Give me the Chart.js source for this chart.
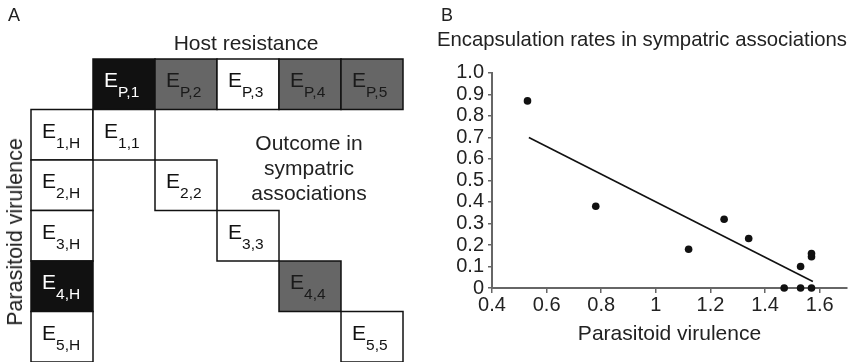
<!DOCTYPE html>
<html lang="en">
<head>
    <meta charset="UTF-8">
    <title>Host resistance and parasitoid virulence</title>
    <script src="https://cdn.jsdelivr.net/npm/chart.js"></script>
    <style>
        body { margin: 0; background: #fff; font-family: "Liberation Sans", Arial, sans-serif; color: #222; }
        #fig { position: relative; width: 862px; height: 362px; overflow: hidden; }
        .txt { position: absolute; white-space: nowrap; line-height: 20px; font-size: 20px; }
        #panelA { position: absolute; left: 0; top: 0; width: 430px; height: 362px; }
        #panelB { position: absolute; left: 430px; top: 0; width: 432px; height: 362px; }
    </style>
</head>
<body>
<div id="fig">
    <div id="panelA"><canvas id="gridChart"></canvas></div>
    <div id="panelB"><canvas id="scatterChart"></canvas></div>

    <div class="txt" style="left:8px;top:6px;font-size:18px;line-height:18px;">A</div>
    <div class="txt" style="left:441px;top:6px;font-size:18px;line-height:18px;">B</div>
    <div class="txt" style="left:246px;top:33px;transform:translateX(-50%);font-size:21px;">Host resistance</div>
    <div class="txt" style="left:309px;top:130px;transform:translateX(-50%);text-align:center;line-height:25px;font-size:21px;">Outcome in<br>sympatric<br>associations</div>
    <div class="txt" style="left:15px;top:232px;transform:translate(-50%,-50%) rotate(-90deg);font-size:21.5px;">Parasitoid virulence</div>
</div>

<script>
    // Panel A: resistance / virulence levels (shade: 0 = white, 1 = grey, 2 = black)
    const hostLabels = ['P,1', 'P,2', 'P,3', 'P,4', 'P,5'];
    const hostShade = [2, 1, 0, 1, 1];
    const parasiteLabels = ['1,H', '2,H', '3,H', '4,H', '5,H'];
    const parasiteShade = [0, 0, 0, 2, 0];
    const outcomeLabels = ['1,1', '2,2', '3,3', '4,4', '5,5'];
    const outcomeShade = [0, 0, 0, 1, 0];

    // Panel B: encapsulation rate vs parasitoid virulence
    const virulence = [0.53, 0.78, 1.12, 1.25, 1.34, 1.47, 1.53, 1.53, 1.57, 1.57, 1.57];
    const encapsulation = [0.87, 0.38, 0.18, 0.32, 0.23, 0, 0, 0.10, 0, 0.145, 0.16];
    const fitX = [0.535, 1.575];
    const fitY = [0.70, 0.03];
    const xTicks = [0.4, 0.6, 0.8, 1, 1.2, 1.4, 1.6];

    const FONT = '"Liberation Sans", Arial, sans-serif';
    const fills = ['#ffffff', '#666666', '#111111'];
    const inks = ['#111111', '#1a1a1a', '#ffffff'];

    // cells as {col,row,label,shade}
    const cells = [];
    hostLabels.forEach((l, i) => cells.push({ col: i + 1, row: 0, label: l, shade: hostShade[i] }));
    parasiteLabels.forEach((l, i) => cells.push({ col: 0, row: i + 1, label: l, shade: parasiteShade[i] }));
    outcomeLabels.forEach((l, i) => cells.push({ col: i + 1, row: i + 1, label: l, shade: outcomeShade[i] }));

    const cellPlugin = {
        id: 'cells',
        afterDraw(chart) {
            const ctx = chart.ctx;
            const xs = chart.scales.x, ys = chart.scales.y;
            ctx.save();
            cells.forEach(c => {
                const x0 = xs.getPixelForValue(c.col), x1 = xs.getPixelForValue(c.col + 1);
                const y0 = ys.getPixelForValue(c.row), y1 = ys.getPixelForValue(c.row + 1);
                ctx.fillStyle = fills[c.shade];
                ctx.fillRect(x0, y0, x1 - x0, y1 - y0);
                ctx.strokeStyle = '#111';
                ctx.lineWidth = 1.5;
                ctx.strokeRect(x0, y0, x1 - x0, y1 - y0);

                ctx.fillStyle = inks[c.shade];
                ctx.textBaseline = 'alphabetic';
                ctx.font = '21px ' + FONT;
                const ex = x0 + 11, ey = y0 + 28;
                ctx.fillText('E', ex, ey);
                const w = ctx.measureText('E').width;
                ctx.font = '15.5px ' + FONT;
                ctx.fillText(c.label, ex + w, ey + 10);
            });
            ctx.restore();
        }
    };

    new Chart(document.getElementById('gridChart'), {
        type: 'scatter',
        data: { datasets: [] },
        options: {
            responsive: true,
            maintainAspectRatio: false,
            animation: false,
            layout: { padding: { left: 31, right: 27, top: 59, bottom: 0 } },
            plugins: { legend: { display: false }, tooltip: { enabled: false } },
            scales: {
                x: { type: 'linear', min: 0, max: 6, display: false },
                y: { type: 'linear', min: 0, max: 6, reverse: true, display: false }
            }
        },
        plugins: [cellPlugin]
    });

    new Chart(document.getElementById('scatterChart'), {
        type: 'scatter',
        data: {
            datasets: [
                {
                    label: 'Encapsulation',
                    data: virulence.map((v, i) => ({ x: v, y: encapsulation[i] })),
                    pointRadius: 3.8,
                    pointBackgroundColor: '#111',
                    pointBorderWidth: 0,
                    clip: false
                },
                {
                    type: 'line',
                    label: 'Fit',
                    data: fitX.map((v, i) => ({ x: v, y: fitY[i] })),
                    borderColor: '#111',
                    borderWidth: 1.6,
                    pointRadius: 0,
                    fill: false
                }
            ]
        },
        options: {
            responsive: true,
            maintainAspectRatio: false,
            animation: false,
            layout: { padding: { left: 7, right: 15, top: 0, bottom: 4 } },
            plugins: {
                legend: { display: false },
                tooltip: { enabled: false },
                title: {
                    display: true,
                    text: 'Encapsulation rates in sympatric associations',
                    align: 'start',
                    color: '#222',
                    font: { family: FONT, size: 20.8, weight: 'normal' },
                    padding: { top: 28, bottom: 20 }
                }
            },
            scales: {
                x: {
                    type: 'linear',
                    min: 0.4,
                    max: 1.7,
                    afterBuildTicks: s => { s.ticks = xTicks.map(v => ({ value: v })); },
                    afterFit: s => { s.height = 70; },
                    ticks: {
                        color: '#222',
                        font: { family: FONT, size: 20 },
                        padding: 0,
                        maxRotation: 0,
                        autoSkip: false,
                        callback: v => String(Math.round(v * 10) / 10)
                    },
                    grid: { drawOnChartArea: false, drawTicks: true, tickLength: 5, color: '#666', lineWidth: 1.5 },
                    border: { color: '#666', width: 2 },
                    title: {
                        display: true,
                        text: 'Parasitoid virulence',
                        color: '#222',
                        font: { family: FONT, size: 21 },
                        padding: { top: 0, bottom: 11 }
                    }
                },
                y: {
                    type: 'linear',
                    min: 0,
                    max: 1,
                    afterFit: s => { s.width = 55; },
                    ticks: {
                        stepSize: 0.1,
                        autoSkip: false,
                        color: '#222',
                        font: { family: FONT, size: 20, lineHeight: 1 },
                        padding: 4,
                        callback: v => (Math.abs(v) < 1e-9 ? '0' : v.toFixed(1))
                    },
                    grid: { drawOnChartArea: false, drawTicks: true, tickLength: 4, color: '#666', lineWidth: 1.5 },
                    border: { color: '#666', width: 2 }
                }
            }
        }
    });
</script>
</body>
</html>
